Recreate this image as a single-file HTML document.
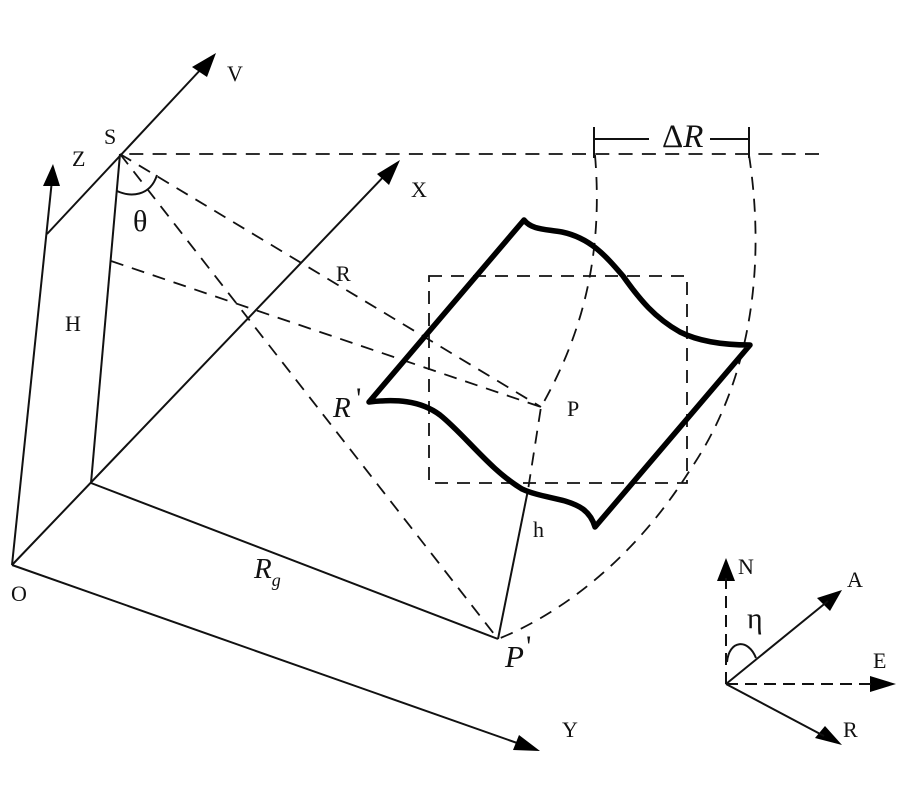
<!DOCTYPE html>
<html>
<head>
<meta charset="utf-8">
<style>
html,body{margin:0;padding:0;background:#fff;width:900px;height:800px;overflow:hidden}
svg{display:block}
text{font-family:"Liberation Serif",serif;fill:#111}
</style>
</head>
<body>
<svg width="900" height="800" viewBox="0 0 900 800" xmlns="http://www.w3.org/2000/svg">
<g fill="none" stroke="#111" stroke-width="2">
<!-- solid axes -->
<line x1="12" y1="565" x2="388" y2="172"/>
<line x1="12" y1="565" x2="520" y2="744"/>
<line x1="12" y1="565" x2="52" y2="180"/>
<line x1="47" y1="234" x2="203" y2="67"/>
<line x1="120" y1="154" x2="91" y2="483"/>
<line x1="91" y1="483" x2="498" y2="639"/>
<line x1="498" y1="639" x2="528" y2="490"/>
</g>
<!-- arrowheads -->
<g fill="#000" stroke="none">
<polygon points="216,53 192,67 207,77"/>
<polygon points="53,164 43,186 60,186"/>
<polygon points="400,160 377,174 389,185"/>
<polygon points="540,751 513,750 519,735"/>
<polygon points="726,558 717,581 735,581"/>
<polygon points="842,590 817,598 830,611"/>
<polygon points="896,684 870,676 870,692"/>
<polygon points="842,745 815,738 825,726"/>
</g>
<g fill="none" stroke="#111" stroke-width="1.8" stroke-dasharray="13 9">
<line x1="120" y1="154" x2="822" y2="154" stroke-dasharray="14 9.3" stroke-dashoffset="-9.3"/>
<line x1="120" y1="154" x2="541" y2="407"/>
<line x1="111" y1="261" x2="541" y2="407"/>
<line x1="120" y1="154" x2="498" y2="639"/>
<rect x="429" y="276" width="258" height="207"/>
<path d="M595 155 C603 250 585 330 541 407 L528 490"/>
<path d="M749 155 C768 280 745 390 690 470 C640 550 570 610 498 639"/>
</g>
<!-- thick swath -->
<path d="M524 220 C532 230 545 229 562 232 C590 238 605 255 623 276 C640 300 655 318 680 332 C700 342 725 345 750 345 L595 527 C590 510 578 505 565 501 C550 497 535 495 522 489 C490 470 465 435 440 415 C420 400 395 399 369 402 Z" fill="none" stroke="#000" stroke-width="5.5" stroke-linejoin="round"/>
<!-- delta R bracket -->
<g fill="none" stroke="#111" stroke-width="2">
<line x1="594" y1="127" x2="594" y2="158"/>
<line x1="749" y1="127" x2="749" y2="158"/>
<line x1="594" y1="139" x2="649" y2="139"/>
<line x1="710" y1="139" x2="749" y2="139"/>
<path d="M117 191 C130 197 150 197 157 175"/>
<path d="M727 662 C729 640 748 638 756 658"/>
</g>
<!-- compass -->
<g fill="none" stroke="#111" stroke-width="2">
<line x1="726" y1="684" x2="828" y2="601"/>
<line x1="726" y1="684" x2="824" y2="736"/>
<line x1="726" y1="684" x2="872" y2="684" stroke-dasharray="12 7"/>
<line x1="726" y1="684" x2="726" y2="578" stroke-dasharray="12 7"/>
</g>
<!-- labels -->
<g font-size="22">
<text x="227" y="81">V</text>
<text x="104" y="144">S</text>
<text x="72" y="166">Z</text>
<text x="411" y="197">X</text>
<text x="336" y="281">R</text>
<text x="65" y="331">H</text>
<text x="567" y="416">P</text>
<text x="533" y="537">h</text>
<text x="11" y="601">O</text>
<text x="562" y="737">Y</text>
<text x="738" y="574">N</text>
<text x="847" y="587">A</text>
<text x="873" y="668">E</text>
<text x="843" y="737">R</text>
</g>
<text x="133" y="231" font-size="30">θ</text>
<text x="747" y="628" font-size="30">η</text>
<text x="662" y="147" font-size="33">Δ<tspan font-style="italic">R</tspan></text>
<text x="333" y="417" font-size="29" font-style="italic">R</text>
<text x="356" y="408" font-size="30">'</text>
<text x="254" y="578" font-size="29" font-style="italic">R<tspan font-size="18" dy="8">g</tspan></text>
<text x="505" y="667" font-size="31" font-style="italic">P</text>
<text x="526" y="656" font-size="30">'</text>
</svg>
</body>
</html>
